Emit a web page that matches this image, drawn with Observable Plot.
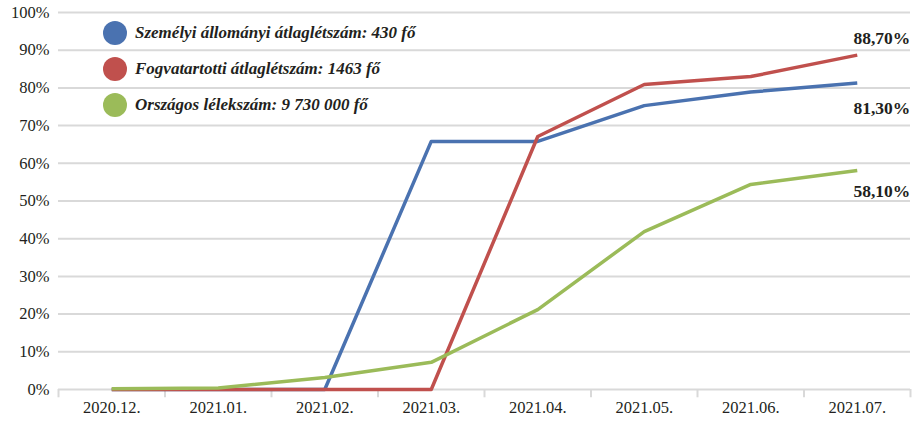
<!DOCTYPE html>
<html><head><meta charset="utf-8">
<script src="https://cdn.jsdelivr.net/npm/d3@7"></script>
<script src="https://cdn.jsdelivr.net/npm/@observablehq/plot@0.6"></script>
<style>
body{margin:0;background:#fff;}
#wrap{position:relative;width:913px;height:422px;}
#legend{position:absolute;left:103px;top:21px;font-family:"Liberation Serif",serif;font-weight:bold;font-style:italic;font-size:17px;color:#231f20;}
.item{display:flex;align-items:center;height:24px;margin-bottom:12px;}
.sw{width:24px;height:24px;border-radius:50%;margin-right:8px;}
</style>
</head><body>
<div id="wrap"><div id="legend"></div></div>
<script>
const months = ["2020.12.","2021.01.","2021.02.","2021.03.","2021.04.","2021.05.","2021.06.","2021.07."];
const seriesNames = ["Személyi állományi átlaglétszám: 430 fő","Fogvatartotti átlaglétszám: 1463 fő","Országos lélekszám: 9 730 000 fő"];
const colors = ["#4a72b0","#c0504d","#9bbb59"];
const staff = [0, 0, 0, 65.8, 65.8, 75.3, 78.9, 81.3];
const inmates = [0, 0, 0, 0, 67.1, 80.9, 83.0, 88.7];
const population = [0.2, 0.4, 3.2, 7.2, 21.2, 41.9, 54.4, 58.1];
const endLabels = ["81,30%","88,70%","58,10%"];
const yTicks = [0,10,20,30,40,50,60,70,80,90,100];

const allSeries = [staff, inmates, population];
const data = allSeries.flatMap((vals, s) => vals.map((v, i) => ({s, i, v})));
const ends = allSeries.map((vals, s) => ({s, i: vals.length - 1, v: vals[vals.length - 1], label: endLabels[s]}));
const boundaries = d3.range(months.length + 1).map(i => i - 0.5);

const chart = Plot.plot({
  width: 913, height: 422,
  marginTop: 12, marginBottom: 33, marginLeft: 58, marginRight: 3,
  style: {fontFamily: "Liberation Serif, serif", fontSize: "16px", color: "#231f20", background: "#fff"},
  x: {domain: [-0.5, months.length - 0.5], axis: null},
  y: {domain: [0, 100], axis: null},
  marks: [
    Plot.ruleY(yTicks, {stroke: "#d9d9d9", strokeWidth: 2}),
    Plot.ruleX(boundaries, {y1: 0, y2: -2.2, stroke: "#d9d9d9", strokeWidth: 2, clip: false}),
    Plot.axisY(yTicks, {tickSize: 0, tickPadding: 9, label: null, tickFormat: d => d + "%", fontSize: 16.5, fill: "#231f20"}),
    Plot.axisX(d3.range(months.length), {tickSize: 0, tickPadding: 12, label: null, tickFormat: i => months[i], fontSize: 16.5, fill: "#231f20"}),
    Plot.line(data, {x: "i", y: "v", z: "s", stroke: d => colors[d.s], strokeWidth: 3.5, strokeLinejoin: "round", strokeLinecap: "butt"}),
    Plot.text(ends.filter(d => d.s === 1), {x: "i", y: "v", text: "label", textAnchor: "end", dx: 53, dy: -17, fontWeight: "bold", fontSize: 17.5, fill: "#231f20"}),
    Plot.text(ends.filter(d => d.s === 0), {x: "i", y: "v", text: "label", textAnchor: "end", dx: 53, dy: 25, fontWeight: "bold", fontSize: 17.5, fill: "#231f20"}),
    Plot.text(ends.filter(d => d.s === 2), {x: "i", y: "v", text: "label", textAnchor: "end", dx: 53, dy: 21, fontWeight: "bold", fontSize: 17.5, fill: "#231f20"})
  ]
});
document.getElementById("wrap").prepend(chart);
const legend = document.getElementById("legend");
seriesNames.forEach((name, s) => {
  const it = document.createElement("div"); it.className = "item";
  const sw = document.createElement("div"); sw.className = "sw"; sw.style.background = colors[s];
  const t = document.createElement("span"); t.textContent = name;
  it.append(sw, t); legend.append(it);
});
</script>
</body></html>
